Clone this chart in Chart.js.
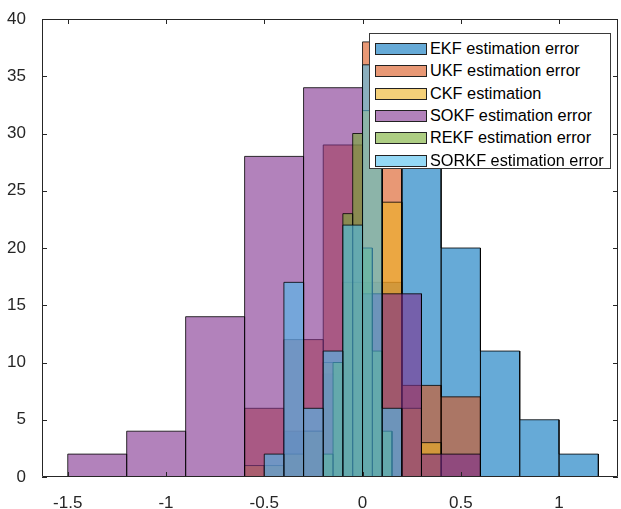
<!DOCTYPE html>
<html lang="en">

<head>
    <meta charset="UTF-8">
    <title>Estimation error histograms</title>
    <script src="https://cdn.jsdelivr.net/npm/chart.js"></script>
    <style>
        body {
            margin: 0;
            background: #fff;
            font-family: "Liberation Sans", Arial, Helvetica, sans-serif;
        }

        #wrap {
            position: relative;
            width: 621px;
            height: 509px;
        }

        #legend {
            position: absolute;
            left: 369px;
            top: 33px;
            width: 240px;
            height: 134px;
            border: 1px solid #3a3a3a;
            background: #fff;
        }

        .row {
            position: absolute;
            left: 0;
            height: 22px;
            width: 100%;
        }

        .patch {
            position: absolute;
            left: 5px;
            top: 5px;
            width: 50px;
            height: 10px;
            border: 1px solid #222;
        }

        .label {
            position: absolute;
            left: 60px;
            top: 0;
            font-size: 16.3px;
            line-height: 20px;
            color: #000;
            white-space: nowrap;
        }
    </style>
</head>

<body>
    <div id="wrap">
        <canvas id="hist" width="621" height="509"></canvas>
        <div id="legend"></div>
    </div>

    <script>
        // series names (legend text) and MATLAB default colours
        const names = ['EKF estimation error', 'UKF estimation error', 'CKF estimation',
            'SOKF estimation error', 'REKF estimation error', 'SORKF estimation error'];
        const colors = [[0, 114, 189], [217, 83, 25], [237, 177, 32],
            [126, 47, 142], [119, 172, 48], [77, 190, 238]];

        // bin edges and counts
        const ekfEdges = [-0.4, -0.2, 0, 0.2, 0.4, 0.6, 0.8, 1.0, 1.2];
        const ekfCounts = [4, 9, 17, 32, 20, 11, 5, 2];

        const ukfEdges = [-0.6, -0.4, -0.2, 0, 0.2, 0.4, 0.6];
        const ukfCounts = [6, 12, 29, 38, 8, 7];

        const ckfEdges = [-0.6, -0.5, -0.4, -0.3, -0.2, -0.1, 0, 0.1, 0.2, 0.3, 0.4];
        const ckfCounts = [1, 1, 2, 4, 10, 17, 32, 24, 6, 3];

        const sokfEdges = [-1.5, -1.2, -0.9, -0.6, -0.3, 0, 0.3, 0.6];
        const sokfCounts = [2, 4, 14, 28, 34, 16, 2];

        const rekfEdges = [-0.2, -0.15, -0.1, -0.05, 0, 0.05, 0.1, 0.15];
        const rekfCounts = [2, 10, 23, 30, 20, 11, 4];

        const sorkfEdges = [-0.5, -0.4, -0.3, -0.2, -0.1, 0, 0.1, 0.2];
        const sorkfCounts = [2, 17, 6, 11, 22, 36, 6];

        const xTicks = [-1.5, -1, -0.5, 0, 0.5, 1];
        const yTicks = [0, 5, 10, 15, 20, 25, 30, 35, 40];

        const allEdges = [ekfEdges, ukfEdges, ckfEdges, sokfEdges, rekfEdges, sorkfEdges];
        const allCounts = [ekfCounts, ukfCounts, ckfCounts, sokfCounts, rekfCounts, sorkfCounts];

        // outline of a histogram: every bar as its own rectangle
        function barOutline(edges, counts) {
            const pts = [];
            counts.forEach((c, i) => {
                pts.push({ x: edges[i], y: 0 }, { x: edges[i], y: c },
                    { x: edges[i + 1], y: c }, { x: edges[i + 1], y: 0 });
            });
            return pts;
        }

        const rgba = (c, a) => `rgba(${c[0]},${c[1]},${c[2]},${a})`;

        const datasets = names.map((name, i) => ({
            label: name,
            data: barOutline(allEdges[i], allCounts[i]),
            backgroundColor: rgba(colors[i], 0.6),
            borderColor: 'rgba(0,0,0,0.8)',
            borderWidth: 1,
            fill: 'origin',
            pointRadius: 0,
            tension: 0,
            order: names.length - i   // later series drawn on top
        }));

        // box round the axes with inward tick marks
        const axesBox = {
            id: 'axesBox',
            afterDatasetsDraw(chart) {
                const { ctx, chartArea: a, scales: { x, y } } = chart;
                ctx.save();
                ctx.strokeStyle = '#262626';
                ctx.lineWidth = 1;
                ctx.beginPath();
                ctx.rect(a.left + 0.5, a.top + 0.5, a.right - a.left - 1, a.bottom - a.top - 1);
                x.ticks.forEach(t => {
                    const px = Math.round(x.getPixelForValue(t.value)) + 0.5;
                    ctx.moveTo(px, a.bottom); ctx.lineTo(px, a.bottom - 5);
                    ctx.moveTo(px, a.top); ctx.lineTo(px, a.top + 5);
                });
                y.ticks.forEach(t => {
                    const py = Math.round(y.getPixelForValue(t.value)) + 0.5;
                    ctx.moveTo(a.left, py); ctx.lineTo(a.left + 5, py);
                    ctx.moveTo(a.right, py); ctx.lineTo(a.right - 5, py);
                });
                ctx.stroke();
                ctx.restore();
            }
        };

        const tickFont = { family: '"Liberation Sans", Arial, Helvetica, sans-serif', size: 17 };

        new Chart(document.getElementById('hist').getContext('2d'), {
            type: 'line',
            data: { datasets: datasets },
            options: {
                responsive: false,
                animation: false,
                layout: { padding: { top: 19, right: 3, left: 0, bottom: 0 } },
                plugins: {
                    legend: { display: false },
                    tooltip: { enabled: false }
                },
                scales: {
                    x: {
                        type: 'linear',
                        min: -1.631,
                        max: 1.3,
                        afterBuildTicks: s => { s.ticks = xTicks.map(v => ({ value: v })); },
                        afterFit: s => { s.height = 32; },
                        grid: { display: false },
                        border: { display: false },
                        ticks: {
                            autoSkip: false,
                            maxRotation: 0,
                            padding: 8,
                            color: '#262626',
                            font: tickFont,
                            callback: v => String(v)
                        }
                    },
                    y: {
                        min: 0,
                        max: 40,
                        afterBuildTicks: s => { s.ticks = yTicks.map(v => ({ value: v })); },
                        afterFit: s => { s.width = 42; },
                        grid: { display: false },
                        border: { display: false },
                        ticks: {
                            padding: 8,
                            color: '#262626',
                            font: tickFont
                        }
                    }
                }
            },
            plugins: [axesBox]
        });

        // legend box in the top right corner of the axes
        const legend = document.getElementById('legend');
        names.forEach((name, i) => {
            const row = document.createElement('div');
            row.className = 'row';
            row.style.top = (4 + i * 22.3) + 'px';
            const patch = document.createElement('div');
            patch.className = 'patch';
            patch.style.background = rgba(colors[i], 0.6);
            const label = document.createElement('div');
            label.className = 'label';
            label.textContent = name;
            row.appendChild(patch);
            row.appendChild(label);
            legend.appendChild(row);
        });
    </script>
</body>

</html>
